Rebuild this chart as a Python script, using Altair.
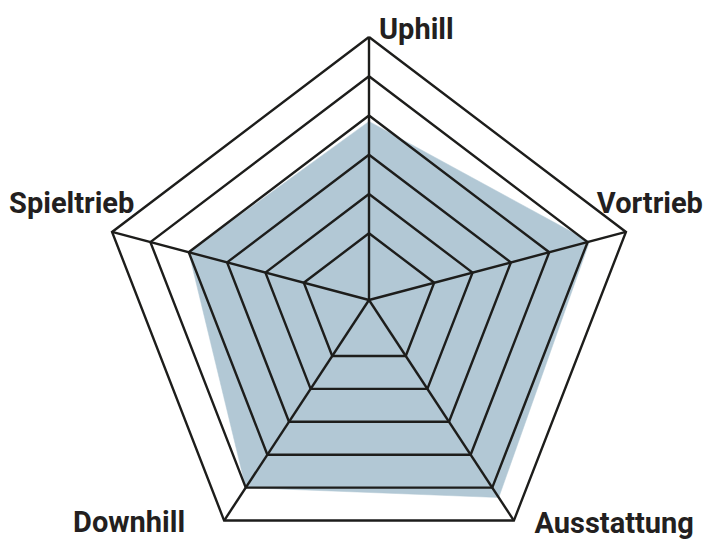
import math

import altair as alt
import pandas as pd

# axes of the radar, clockwise from the top
axes = ["Uphill", "Vortrieb", "Ausstattung", "Downhill", "Spieltrieb"]
angles = [0, 75, 147, 213, 285]
scores = [3.85, 5.05, 5.3, 5.0, 4.0]
levels = [1, 2, 3, 4, 5, 6]

# radial scale: the centre sits a little below level 1
R_MIN = -0.7
R_MAX = 6

LINE = "#1d1d1b"
FILL = "#b2c8d5"
FONT = "Roboto"

W, H = 696, 535


def _xy(value, angle):
    r = (value - R_MIN) / (R_MAX - R_MIN)
    a = math.radians(angle)
    return r * math.sin(a), r * math.cos(a)


def polygon(values, name):
    rows = []
    for i in range(len(axes) + 1):
        k = i % len(axes)
        x, y = _xy(values[k], angles[k])
        rows.append({"shape": name, "order": i, "x": x, "y": y})
    return rows


ring_rows = []
for lv in levels:
    ring_rows += polygon([lv] * len(axes), "ring%d" % lv)
rings = pd.DataFrame(ring_rows)
area = pd.DataFrame(polygon(scores, "score"))

spoke_rows = []
for name, ang in zip(axes, angles):
    x, y = _xy(R_MAX, ang)
    spoke_rows.append({"axis": name, "x": 0.0, "y": 0.0, "x2": x, "y2": y})
spokes = pd.DataFrame(spoke_rows)

x_scale = alt.Scale(domain=[-361 / 266, (W - 361) / 266], nice=False, zero=False)
y_scale = alt.Scale(domain=[-(H - 292) / 263, 292 / 263], nice=False, zero=False)
X = alt.X("x:Q", scale=x_scale, axis=None)
Y = alt.Y("y:Q", scale=y_scale, axis=None)

fill = alt.Chart(area).mark_line(fill=FILL, stroke=FILL, strokeWidth=0.5).encode(
    X, Y, order="order:Q")

grid = alt.Chart(rings).mark_line(color=LINE, strokeWidth=2.4, strokeJoin="miter").encode(
    X, Y, detail="shape:N", order="order:Q")

rays = alt.Chart(spokes).mark_rule(color=LINE, strokeWidth=2.4).encode(
    X, Y, x2="x2:Q", y2="y2:Q")

# label placement next to each outer corner
label_style = {
    "Uphill": dict(align="left", dx=10, dy=2),
    "Vortrieb": dict(align="right", dx=77, dy=-19),
    "Ausstattung": dict(align="right", dx=180, dy=12),
    "Downhill": dict(align="right", dx=-39, dy=11),
    "Spieltrieb": dict(align="left", dx=-103, dy=-19),
}

labels = []
for name, ang in zip(axes, angles):
    x, y = _xy(R_MAX, ang)
    df = pd.DataFrame([{"axis": name, "x": x, "y": y}])
    labels.append(alt.Chart(df).mark_text(
        font=FONT, fontSize=29, fontWeight="bold", color="#231f20",
        baseline="alphabetic", **label_style[name]).encode(X, Y, text="axis:N"))

chart = alt.layer(fill, grid, rays, *labels).properties(
    width=W, height=H, padding=0,
    autosize=alt.AutoSizeParams(type="none"),
).configure_view(stroke=None)

chart.save("out.html", embed_options={"renderer": "svg", "actions": False})
